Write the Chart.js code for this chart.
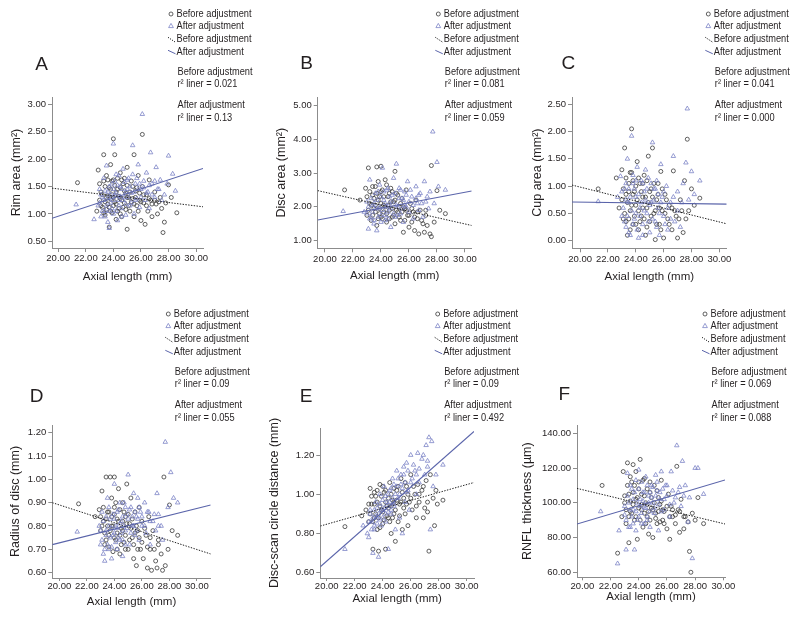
<!DOCTYPE html>
<html>
<head>
<meta charset="utf-8">
<script src="https://cdn.jsdelivr.net/npm/chart.js@4.4.1/dist/chart.umd.min.js"></script>
<style>
  html, body { margin: 0; padding: 0; background: #fff; }
  #wrap { position: relative; width: 795px; height: 619px; overflow: hidden; }
  #wrap canvas { position: absolute; left: 0; top: 0; }
</style>
</head>
<body>
<div id="wrap">
  <canvas id="cA" width="795" height="619"></canvas>
  <canvas id="cB" width="795" height="619"></canvas>
  <canvas id="cC" width="795" height="619"></canvas>
  <canvas id="cD" width="795" height="619"></canvas>
  <canvas id="cE" width="795" height="619"></canvas>
  <canvas id="cF" width="795" height="619"></canvas>
</div>
<script>
// ---- data (axial length mm, measure) ----
var axialTicks = [20, 22, 24, 26, 28, 30];

var rimTicks = [0.5, 1.0, 1.5, 2.0, 2.5, 3.0];
var rimBefore = [[21.4,1.57],[22.8,1.05],[22.9,1.80],[23.0,1.25],[23.1,1.40],[23.2,1.12],[23.3,2.08],[23.3,1.60],[23.4,0.98],[23.5,1.70],[23.5,1.30],[23.6,1.18],[23.7,0.76],[23.7,1.48],[23.8,1.90],[23.8,1.05],[23.9,1.35],[24.0,2.37],[24.0,1.62],[24.1,1.22],[24.1,2.08],[24.2,0.90],[24.3,1.45],[24.4,1.10],[24.5,1.75],[24.5,1.28],[24.6,0.95],[24.7,1.55],[24.8,1.20],[24.9,1.38],[25.0,0.72],[25.0,1.85],[25.1,1.30],[25.2,1.05],[25.3,1.60],[25.4,1.28],[25.5,2.08],[25.5,0.95],[25.6,1.42],[25.7,1.15],[25.8,1.70],[25.9,1.25],[26.0,0.88],[26.1,2.45],[26.1,1.50],[26.2,1.20],[26.3,0.81],[26.4,1.35],[26.5,1.05],[26.6,1.62],[26.7,1.25],[26.8,0.95],[27.0,1.40],[27.1,1.18],[27.2,1.00],[27.4,1.30],[27.5,1.10],[27.6,0.66],[27.7,0.85],[27.8,1.20],[28.0,1.53],[28.2,1.30],[28.6,1.02],
  [23.0,1.55],[23.1,1.15],[23.2,1.35],[23.3,1.02],[23.4,1.50],[23.4,1.22],[23.5,1.08],[23.6,1.62],[23.6,1.33],[23.7,1.12],[23.8,1.45],[23.8,1.27],[23.9,1.60],[23.9,1.02],[24.0,1.30],[24.0,1.15],[24.1,1.52],[24.2,1.40],[24.2,1.18],[24.3,1.65],[24.3,1.05],[24.4,1.32],[24.5,1.48],[24.5,1.00],[24.6,1.25],[24.6,1.62],[24.7,1.12],[24.8,1.42],[24.8,1.65],[24.9,1.08],[25.0,1.30],[25.0,1.52],[25.1,1.15],[25.2,1.40],[25.3,1.22],[25.4,1.50],[25.5,1.18],[25.6,1.30],[25.7,1.48],[25.8,1.05],[25.9,1.38],[26.0,1.22],[26.2,1.35],[26.4,1.15],[26.6,1.28],[26.8,1.18],[27.0,1.25],[27.3,1.22]];
var rimAfter = [[21.3,1.17],[22.6,0.90],[22.9,1.15],[23.0,1.45],[23.1,0.95],[23.2,1.30],[23.3,1.65],[23.4,1.05],[23.5,1.88],[23.6,0.85],[23.6,1.40],[23.7,0.74],[23.8,1.20],[23.9,1.55],[24.0,2.28],[24.0,1.00],[24.1,1.35],[24.2,1.72],[24.3,0.88],[24.4,1.25],[24.5,1.50],[24.6,1.10],[24.7,1.82],[24.8,1.30],[24.9,0.98],[25.0,1.45],[25.1,1.65],[25.2,1.15],[25.3,1.38],[25.4,2.25],[25.5,1.00],[25.6,1.55],[25.7,1.28],[25.8,1.90],[25.9,1.12],[26.0,1.45],[26.1,2.82],[26.2,1.60],[26.3,1.25],[26.4,1.75],[26.5,1.40],[26.6,1.10],[26.7,2.12],[26.8,1.55],[27.0,1.30],[27.1,1.85],[27.2,1.45],[27.4,1.62],[27.5,1.25],[27.7,1.35],[27.9,1.55],[28.0,2.06],[28.3,1.73],[28.5,1.42],
  [23.0,1.20],[23.1,1.35],[23.2,1.05],[23.3,1.25],[23.4,1.42],[23.4,0.95],[23.5,1.15],[23.6,1.30],[23.7,1.05],[23.7,1.50],[23.8,1.35],[23.9,1.10],[24.0,1.45],[24.0,1.25],[24.1,1.60],[24.2,1.05],[24.2,1.38],[24.3,1.52],[24.4,1.15],[24.4,1.70],[24.5,1.32],[24.6,1.45],[24.6,0.95],[24.7,1.25],[24.8,1.58],[24.9,1.40],[24.9,1.18],[25.0,1.62],[25.1,1.30],[25.2,1.50],[25.3,1.20],[25.4,1.72],[25.5,1.40],[25.6,1.25],[25.7,1.65],[25.8,1.45],[25.9,1.55],[26.0,1.30],[26.2,1.48],[26.4,1.38],[26.6,1.52],[26.8,1.35],[27.0,1.60],[27.3,1.45]];
var rimFitBefore = [[19.55,1.47],[30.5,1.13]];
var rimFitAfter = [[19.55,0.92],[30.5,1.83]];

var discTicks = [1, 2, 3, 4, 5];
var discBefore = [[21.4,2.50],[22.5,2.20],[22.9,2.55],[23.0,1.75],[23.1,3.15],[23.2,2.10],[23.3,1.60],[23.4,2.35],[23.5,1.95],[23.6,2.60],[23.7,1.45],[23.7,3.18],[23.8,2.20],[23.9,1.80],[24.0,3.20],[24.0,2.45],[24.1,1.65],[24.2,2.05],[24.3,2.80],[24.4,1.55],[24.5,2.30],[24.6,1.90],[24.7,2.55],[24.8,1.70],[24.9,2.15],[25.0,3.05],[25.0,1.50],[25.1,2.40],[25.2,1.85],[25.3,2.00],[25.4,1.60],[25.5,2.25],[25.6,1.25],[25.7,1.95],[25.8,2.50],[25.9,1.75],[26.0,1.40],[26.1,2.10],[26.2,1.55],[26.3,1.85],[26.4,1.30],[26.5,2.20],[26.6,1.65],[26.7,1.20],[26.8,1.90],[27.0,1.50],[27.1,1.25],[27.2,1.75],[27.3,1.45],[27.5,1.20],[27.6,1.12],[27.6,3.22],[27.8,1.55],[28.0,2.48],[28.2,1.90],[28.6,1.80],
  [23.0,2.30],[23.1,1.90],[23.2,2.45],[23.3,2.05],[23.4,1.75],[23.4,2.60],[23.5,2.25],[23.6,1.85],[23.6,2.05],[23.7,2.40],[23.8,1.65],[23.8,2.75],[23.9,2.30],[23.9,1.95],[24.0,2.10],[24.0,1.70],[24.1,2.50],[24.2,1.85],[24.2,2.30],[24.3,2.00],[24.4,2.65],[24.4,1.80],[24.5,2.05],[24.6,2.40],[24.6,1.65],[24.7,2.15],[24.8,1.95],[24.8,2.45],[24.9,1.75],[25.0,2.20],[25.1,1.90],[25.2,2.35],[25.3,1.70],[25.4,2.10],[25.5,1.85],[25.6,2.00],[25.7,1.60],[25.8,1.90],[26.0,1.75],[26.2,1.95],[26.4,1.70],[26.6,1.85],[26.9,1.60],[27.2,1.90]];
var discAfter = [[21.3,1.87],[22.8,1.85],[23.0,2.15],[23.1,1.35],[23.2,2.80],[23.3,1.70],[23.4,2.05],[23.5,1.50],[23.6,2.40],[23.7,1.30],[23.8,1.95],[23.9,2.65],[24.0,1.75],[24.1,3.15],[24.2,2.20],[24.3,1.60],[24.4,2.50],[24.5,1.85],[24.6,2.10],[24.7,1.40],[24.8,2.35],[24.9,2.85],[25.0,1.70],[25.1,3.27],[25.2,2.00],[25.3,2.55],[25.4,1.80],[25.5,2.25],[25.6,1.55],[25.7,2.45],[25.8,2.00],[25.9,2.75],[26.0,1.85],[26.2,2.30],[26.3,1.65],[26.5,2.60],[26.6,2.10],[26.7,1.90],[26.8,2.40],[27.0,1.70],[27.1,2.75],[27.2,2.15],[27.4,1.95],[27.5,2.45],[27.7,4.22],[27.8,2.10],[28.0,3.32],[28.1,2.60],[28.6,2.50],
  [23.0,1.80],[23.1,2.00],[23.2,1.65],[23.3,2.25],[23.4,1.85],[23.5,2.10],[23.5,1.60],[23.6,1.95],[23.7,2.20],[23.8,1.70],[23.8,2.45],[23.9,2.00],[24.0,2.30],[24.0,1.55],[24.1,1.90],[24.2,2.45],[24.3,2.10],[24.3,1.75],[24.4,2.00],[24.5,2.55],[24.5,1.65],[24.6,2.30],[24.7,1.95],[24.8,2.15],[24.9,1.80],[25.0,2.40],[25.1,2.05],[25.2,1.75],[25.3,2.25],[25.4,2.50],[25.5,1.95],[25.6,2.20],[25.7,2.05],[25.8,2.35],[26.0,2.15],[26.1,2.50],[26.3,2.05],[26.5,2.25],[26.7,2.35],[26.9,2.10],[27.3,2.30]];
var discFitBefore = [[19.48,2.48],[30.48,1.45]];
var discFitAfter = [[19.48,1.61],[30.48,2.47]];

var cupTicks = [0, 0.5, 1.0, 1.5, 2.0, 2.5];
var cupBefore = [[21.3,0.95],[22.6,1.15],[22.8,0.60],[23.0,1.30],[23.1,0.40],[23.2,1.70],[23.3,0.85],[23.4,0.10],[23.5,1.05],[23.6,0.55],[23.7,2.05],[23.7,1.25],[23.8,0.30],[23.9,0.90],[24.0,0.65],[24.1,1.45],[24.2,0.20],[24.3,1.05],[24.4,0.45],[24.5,0.80],[24.6,1.20],[24.7,0.10],[24.8,0.60],[24.9,1.55],[25.0,0.35],[25.1,0.95],[25.2,1.70],[25.3,0.50],[25.4,0.02],[25.5,0.75],[25.6,1.05],[25.7,0.30],[25.8,1.27],[25.9,0.55],[26.0,0.05],[26.1,0.85],[26.3,0.40],[26.4,0.65],[26.6,0.20],[26.7,1.28],[26.8,0.55],[27.0,0.05],[27.1,0.40],[27.2,0.75],[27.4,0.15],[27.5,1.10],[27.6,0.40],[27.7,1.86],[27.8,0.55],[28.0,0.95],[28.2,0.65],[28.6,0.78],
  [23.0,0.75],[23.1,0.95],[23.2,0.50],[23.3,1.15],[23.3,0.35],[23.4,0.70],[23.5,0.40],[23.5,0.90],[23.6,1.25],[23.6,0.20],[23.7,0.65],[23.8,0.85],[23.8,1.10],[23.9,0.45],[24.0,1.00],[24.0,0.30],[24.1,0.75],[24.2,0.55],[24.2,1.15],[24.3,0.35],[24.4,0.90],[24.5,0.60],[24.5,1.05],[24.6,0.40],[24.7,0.80],[24.8,1.10],[24.8,0.25],[24.9,0.70],[25.0,0.90],[25.1,0.45],[25.2,0.80],[25.3,1.05],[25.4,0.55],[25.5,0.30],[25.6,0.85],[25.7,0.60],[25.8,0.20],[25.9,0.95],[26.1,0.50],[26.2,0.75],[26.4,0.30],[26.6,0.60],[26.9,0.45],[27.3,0.55]];
var cupAfter = [[21.3,0.72],[22.7,0.80],[22.9,1.18],[23.0,0.45],[23.2,0.95],[23.3,0.25],[23.4,1.50],[23.5,0.70],[23.6,0.10],[23.7,1.92],[23.8,1.05],[23.9,0.40],[24.0,0.80],[24.1,1.35],[24.2,0.05],[24.3,0.60],[24.4,1.10],[24.5,0.30],[24.6,0.90],[24.7,1.30],[24.8,0.50],[24.9,1.15],[25.0,0.15],[25.1,0.70],[25.2,1.80],[25.3,0.95],[25.4,0.35],[25.5,1.10],[25.6,0.60],[25.7,0.10],[25.8,1.40],[25.9,0.80],[26.0,0.45],[26.2,1.00],[26.3,0.20],[26.5,0.70],[26.7,1.55],[26.8,0.35],[27.0,0.90],[27.2,0.25],[27.4,1.05],[27.6,1.43],[27.7,2.42],[27.8,0.75],[28.0,1.27],[28.2,0.85],[28.6,1.10],
  [23.0,0.90],[23.1,0.60],[23.2,0.35],[23.3,1.05],[23.3,0.75],[23.4,0.45],[23.5,0.95],[23.5,0.15],[23.6,0.80],[23.7,0.55],[23.8,1.20],[23.8,0.30],[23.9,0.95],[24.0,0.50],[24.0,1.10],[24.1,0.20],[24.2,0.85],[24.3,0.45],[24.4,0.70],[24.5,1.05],[24.5,0.10],[24.6,0.55],[24.7,0.75],[24.8,0.95],[24.9,0.35],[25.0,0.65],[25.1,1.05],[25.2,0.40],[25.3,0.75],[25.4,0.95],[25.5,0.25],[25.6,0.85],[25.7,0.50],[25.8,0.70],[26.0,0.90],[26.1,0.30],[26.3,0.60],[26.5,0.40],[26.7,0.80],[27.0,0.55],[27.3,0.70]];
var cupFitBefore = [[19.42,1.02],[30.53,0.31]];
var cupFitAfter = [[19.42,0.71],[30.53,0.67]];

var radiusTicks = [0.6, 0.7, 0.8, 0.9, 1.0, 1.1, 1.2];
var radiusBefore = [[21.4,0.895],[22.6,0.84],[22.9,0.87],[23.0,0.78],[23.1,0.95],[23.2,0.82],[23.3,0.72],[23.4,1.01],[23.5,0.86],[23.6,0.76],[23.7,1.01],[23.8,0.80],[23.9,0.69],[24.0,0.88],[24.0,1.01],[24.1,0.74],[24.2,0.83],[24.3,0.96],[24.4,0.68],[24.5,0.79],[24.6,0.90],[24.7,0.73],[24.8,0.84],[24.9,0.98],[25.0,0.70],[25.1,0.81],[25.2,0.92],[25.3,0.75],[25.4,0.66],[25.5,0.86],[25.6,0.63],[25.7,0.78],[25.8,0.88],[25.9,0.70],[26.0,0.82],[26.1,0.66],[26.3,0.76],[26.4,0.62],[26.5,0.84],[26.6,0.70],[26.7,0.61],[26.8,0.78],[27.0,0.65],[27.1,0.62],[27.2,0.72],[27.4,0.68],[27.5,0.61],[27.6,1.01],[27.7,0.63],[27.9,0.70],[28.0,0.89],[28.2,0.78],[28.6,0.76],
  [23.0,0.84],[23.1,0.80],[23.2,0.88],[23.3,0.77],[23.4,0.83],[23.4,0.74],[23.5,0.80],[23.6,0.86],[23.6,0.71],[23.7,0.78],[23.8,0.84],[23.8,0.92],[23.9,0.80],[24.0,0.75],[24.0,0.85],[24.1,0.90],[24.2,0.77],[24.2,0.70],[24.3,0.82],[24.4,0.87],[24.4,0.76],[24.5,0.72],[24.6,0.82],[24.6,0.78],[24.7,0.86],[24.8,0.76],[24.8,0.70],[24.9,0.81],[25.0,0.85],[25.1,0.74],[25.2,0.79],[25.3,0.83],[25.4,0.72],[25.5,0.77],[25.6,0.80],[25.7,0.70],[25.8,0.75],[26.0,0.73],[26.2,0.79],[26.4,0.71],[26.6,0.75],[26.9,0.70],[27.2,0.74]];
var radiusAfter = [[21.3,0.775],[22.9,0.80],[23.0,0.72],[23.1,0.86],[23.2,0.68],[23.3,0.65],[23.4,0.78],[23.5,0.92],[23.6,0.70],[23.7,0.83],[23.8,0.66],[23.9,0.76],[24.0,0.98],[24.1,0.80],[24.2,0.70],[24.3,0.87],[24.4,0.74],[24.5,0.82],[24.6,0.67],[24.7,0.90],[24.8,0.78],[24.9,0.85],[25.0,1.02],[25.1,0.72],[25.2,0.88],[25.3,0.80],[25.4,0.94],[25.5,0.76],[25.6,0.84],[25.7,0.92],[25.8,0.74],[25.9,0.86],[26.0,0.80],[26.2,0.90],[26.3,0.77],[26.5,0.86],[26.6,0.72],[26.8,0.82],[27.0,0.78],[27.1,0.94],[27.2,0.85],[27.4,0.80],[27.5,0.74],[27.7,1.16],[27.9,0.88],[28.1,1.03],[28.3,0.92],[28.6,0.90],
  [23.0,0.78],[23.1,0.74],[23.2,0.82],[23.3,0.70],[23.4,0.84],[23.4,0.76],[23.5,0.72],[23.6,0.80],[23.6,0.88],[23.7,0.75],[23.8,0.79],[23.8,0.71],[23.9,0.85],[24.0,0.77],[24.0,0.83],[24.1,0.73],[24.2,0.86],[24.2,0.79],[24.3,0.75],[24.4,0.81],[24.4,0.90],[24.5,0.77],[24.6,0.84],[24.6,0.74],[24.7,0.80],[24.8,0.88],[24.8,0.72],[24.9,0.79],[25.0,0.83],[25.1,0.87],[25.2,0.77],[25.3,0.84],[25.4,0.80],[25.5,0.86],[25.6,0.78],[25.7,0.83],[25.8,0.88],[26.0,0.84],[26.2,0.80],[26.4,0.86],[26.6,0.82],[26.9,0.85],[27.2,0.80]];
var radiusFitBefore = [[19.49,0.90],[31.0,0.68]];
var radiusFitAfter = [[19.49,0.72],[31.0,0.89]];

var scanTicks = [0.6, 0.8, 1.0, 1.2];
var scanBefore = [[21.3,0.835],[22.5,0.89],[22.8,0.92],[23.0,0.86],[23.1,1.03],[23.2,0.95],[23.3,0.72],[23.4,0.88],[23.5,0.99],[23.6,0.82],[23.7,0.71],[23.8,1.05],[23.9,0.92],[24.0,0.85],[24.1,1.01],[24.2,0.72],[24.3,0.94],[24.4,0.88],[24.5,1.06],[24.6,0.80],[24.7,0.97],[24.8,0.90],[24.9,0.76],[25.0,1.02],[25.1,0.86],[25.2,0.95],[25.3,1.08],[25.4,0.82],[25.5,0.98],[25.6,0.90],[25.7,1.04],[25.8,0.84],[25.9,0.96],[26.0,1.10],[26.1,0.92],[26.3,1.00],[26.4,0.88],[26.5,1.05],[26.6,0.96],[26.8,1.02],[26.9,0.88],[27.0,0.93],[27.1,1.07],[27.2,0.91],[27.3,0.71],[27.4,1.10],[27.6,0.98],[27.7,0.84],[27.8,1.02],[27.9,0.95],[28.3,0.97],
  [23.0,0.95],[23.1,0.90],[23.2,0.99],[23.3,0.86],[23.4,0.95],[23.4,1.01],[23.5,0.90],[23.6,0.96],[23.6,1.02],[23.7,0.88],[23.8,0.94],[23.8,0.83],[23.9,0.99],[24.0,0.91],[24.0,1.04],[24.1,0.87],[24.2,0.96],[24.2,1.02],[24.3,0.89],[24.4,0.98],[24.4,0.93],[24.5,0.86],[24.6,1.00],[24.6,0.94],[24.7,0.88],[24.8,1.03],[24.8,0.96],[24.9,0.92],[25.0,0.97],[25.1,1.04],[25.2,0.89],[25.3,0.96],[25.4,1.01],[25.5,0.93],[25.6,1.06],[25.7,0.95],[25.8,1.00],[26.0,0.98],[26.2,1.04],[26.4,0.94],[26.6,1.00],[26.9,1.04],[27.2,0.96]];
var scanAfter = [[21.3,0.72],[22.6,0.84],[22.9,0.80],[23.0,0.78],[23.1,0.92],[23.2,0.86],[23.3,0.70],[23.4,0.82],[23.5,0.96],[23.6,0.88],[23.7,0.68],[23.8,1.00],[23.9,0.84],[24.0,0.92],[24.1,1.04],[24.2,0.86],[24.3,0.96],[24.4,0.72],[24.5,1.02],[24.6,0.90],[24.7,1.08],[24.8,0.94],[24.9,0.82],[25.0,1.12],[25.1,0.98],[25.2,0.88],[25.3,1.05],[25.4,0.80],[25.5,1.10],[25.6,0.96],[25.7,1.16],[25.8,1.02],[25.9,0.92],[26.0,1.20],[26.1,1.08],[26.3,1.12],[26.4,1.00],[26.5,1.21],[26.6,1.06],[26.8,1.18],[27.0,1.10],[27.1,1.25],[27.2,1.14],[27.3,1.29],[27.4,0.82],[27.5,1.27],[27.6,1.04],[27.8,1.10],[28.3,1.15],
  [23.0,0.86],[23.1,0.90],[23.2,0.82],[23.3,0.88],[23.4,0.92],[23.4,0.84],[23.5,0.89],[23.6,0.93],[23.6,0.85],[23.7,0.90],[23.8,0.95],[23.8,0.87],[23.9,0.92],[24.0,0.97],[24.0,0.88],[24.1,0.93],[24.2,0.99],[24.2,0.90],[24.3,0.94],[24.4,1.00],[24.4,0.91],[24.5,0.96],[24.6,1.03],[24.6,0.92],[24.7,0.98],[24.8,1.05],[24.8,0.95],[24.9,1.00],[25.0,1.04],[25.1,1.08],[25.2,1.00],[25.3,1.10],[25.4,1.03],[25.5,1.14],[25.6,1.06],[25.7,1.01],[25.8,1.12],[26.0,1.06],[26.2,1.15],[26.4,1.10],[26.6,1.13],[26.9,1.20],[27.2,1.17]];
var scanFitBefore = [[19.54,0.838],[30.52,1.06]];
var scanFitAfter = [[19.54,0.63],[30.52,1.32]];

var rnflTicks = [60, 80, 100, 120, 140];
var rnflBefore = [[21.4,110],[22.5,71],[22.8,92],[22.9,118],[23.0,100],[23.1,88],[23.2,123],[23.3,105],[23.3,77],[23.4,95],[23.5,112],[23.6,122],[23.7,90],[23.8,102],[23.9,79],[24.0,108],[24.1,125],[24.2,96],[24.3,86],[24.4,114],[24.5,100],[24.6,92],[24.7,82],[24.8,106],[24.9,97],[25.0,80],[25.1,110],[25.2,94],[25.3,88],[25.4,103],[25.5,99],[25.6,113],[25.7,90],[25.8,95],[26.0,85],[26.1,105],[26.2,79],[26.3,98],[26.4,92],[26.6,88],[26.7,121],[26.8,96],[26.9,83],[27.0,102],[27.2,85],[27.3,92],[27.5,89],[27.6,72],[27.7,60],[27.8,94],[28.0,90],[28.2,103],[28.6,88],
  [23.0,104],[23.1,96],[23.2,110],[23.3,92],[23.4,101],[23.4,115],[23.5,94],[23.6,106],[23.6,99],[23.7,110],[23.8,92],[23.8,118],[23.9,103],[24.0,97],[24.0,112],[24.1,90],[24.2,105],[24.2,99],[24.3,113],[24.4,94],[24.4,104],[24.5,88],[24.6,108],[24.6,99],[24.7,95],[24.8,112],[24.8,90],[24.9,103],[25.0,96],[25.1,100],[25.2,91],[25.3,107],[25.4,95],[25.5,89],[25.6,101],[25.7,96],[25.8,88],[26.0,98],[26.2,92],[26.4,96],[26.6,93],[26.9,95],[27.2,92]];
var rnflAfter = [[21.3,95],[22.5,65],[22.6,84],[23.0,93],[23.1,73],[23.2,117],[23.3,100],[23.4,86],[23.5,108],[23.6,96],[23.7,73],[23.8,113],[23.9,90],[24.0,119],[24.1,102],[24.2,88],[24.3,106],[24.4,97],[24.5,115],[24.6,92],[24.7,104],[24.8,86],[24.9,110],[25.0,100],[25.1,94],[25.2,116],[25.3,107],[25.4,84],[25.5,102],[25.6,118],[25.8,96],[25.9,110],[26.0,104],[26.2,92],[26.3,118],[26.5,100],[26.7,133],[26.8,106],[27.0,98],[27.1,124],[27.3,110],[27.5,89],[27.6,103],[27.8,68],[28.0,120],[28.2,120],[28.6,105],
  [23.0,98],[23.1,90],[23.2,104],[23.3,86],[23.4,96],[23.4,110],[23.5,92],[23.6,102],[23.6,88],[23.7,106],[23.8,95],[23.8,84],[23.9,100],[24.0,108],[24.0,92],[24.1,98],[24.2,112],[24.2,94],[24.3,101],[24.4,88],[24.4,106],[24.5,97],[24.6,110],[24.6,90],[24.7,100],[24.8,106],[24.8,95],[24.9,103],[25.0,109],[25.1,97],[25.2,104],[25.3,112],[25.4,99],[25.5,106],[25.6,95],[25.7,108],[25.8,102],[26.0,110],[26.2,99],[26.4,107],[26.6,103],[26.9,109],[27.2,104]];
var rnflFitBefore = [[19.62,108.3],[30.12,87.8]];
var rnflFitAfter = [[19.62,87.8],[30.12,113.1]];

// ---- styling ----
var SANS = "'Liberation Sans', Arial, Helvetica, sans-serif";
var INK = '#231f20';
var AXIS = '#8c8c8c';
var CIRCLE = '#3a3a3a';
var TRI = '#7c84c6';
var BLUE = '#5a64aa';

// panel layout: box = chart area [left, top, right, bottom] on the page
var panels = [
  { id: 'cA', letter: 'A', yTitle: 'Rim area (mm\u00b2)', before: rimBefore, after: rimAfter,
    fitB: rimFitBefore, fitA: rimFitAfter, yTicks: rimTicks, r2: ['0.021', '0.13'],
    xr: [19.55, 30.5], yr: [0.378, 3.133], box: [52, 97, 203, 248], yW: 43, xH: 35.5, tickLen: 4, tickPad: 1,
    letterAt: [41.7, 65], legX: 171, legY: 0 },
  { id: 'cB', letter: 'B', yTitle: 'Disc area (mm\u00b2)', before: discBefore, after: discAfter,
    fitB: discFitBefore, fitA: discFitAfter, yTicks: discTicks, r2: ['0.081', '0.059'],
    xr: [19.48, 30.48], yr: [0.776, 5.245], box: [317.7, 97, 471.7, 248.3], yW: 43.2, xH: 34.5, tickLen: 4, tickPad: 1,
    letterAt: [306.7, 63.3], legX: 438.3, legY: 0 },
  { id: 'cC', letter: 'C', yTitle: 'Cup area (mm\u00b2)', before: cupBefore, after: cupAfter,
    fitB: cupFitBefore, fitA: cupFitAfter, yTicks: cupTicks, r2: ['0.041', '0.000'],
    xr: [19.42, 30.53], yr: [-0.139, 2.634], box: [572, 97, 726.7, 248.3], yW: 42, xH: 35.5, tickLen: 4, tickPad: 1,
    letterAt: [568.3, 63.3], legX: 708.3, legY: 0 },
  { id: 'cD', letter: 'D', yTitle: 'Radius of disc (mm)', before: radiusBefore, after: radiusAfter,
    fitB: radiusFitBefore, fitA: radiusFitAfter, yTicks: radiusTicks, r2: ['0.09', '0.055'],
    xr: [19.49, 31.0], yr: [0.577, 1.233], box: [52.3, 425, 210.7, 578], yW: 44.5, xH: 31, tickLen: 3, tickPad: 0,
    letterAt: [36.7, 396.7], legX: 168.3, legY: 300 },
  { id: 'cE', letter: 'E', yTitle: 'Disc-scan circle distance (mm)', before: scanBefore, after: scanAfter,
    fitB: scanFitBefore, fitA: scanFitAfter, yTicks: scanTicks, r2: ['0.09', '0.492'],
    xr: [19.54, 30.52], yr: [0.573, 1.338], box: [320.3, 428, 474, 578], yW: 53.5, xH: 27.5, tickLen: 3, tickPad: 0,
    letterAt: [306, 396.7], legX: 437.7, legY: 300 },
  { id: 'cF', letter: 'F', yTitle: 'RNFL thickness (\u00b5m)', before: rnflBefore, after: rnflAfter,
    fitB: rnflFitBefore, fitA: rnflFitAfter, yTicks: rnflTicks, r2: ['0.069', '0.088'],
    xr: [19.62, 30.12], yr: [57.1, 144.8], box: [577, 425, 725, 577.3], yW: 57.2, xH: 26.5, tickLen: 3, tickPad: 0,
    letterAt: [564.3, 395], legX: 705, legY: 300 }
];

function toPoints(arr) {
  return arr.map(function(p) { return { x: p[0], y: p[1] }; });
}

// condensed label text: a taller face squeezed to the reference width
function squeezeText(ctx, s, x, y) {
  ctx.font = '10.5px ' + SANS;
  var target = ctx.measureText(s).width * 0.88;
  ctx.font = '11.3px ' + SANS;
  ctx.fillText(s, x, y, target);
}

var notesPlugin = {
  id: 'panelNotes',
  afterDraw: function(chart) {
    var p = chart.options.plugins.panelNotes.panel;
    var ctx = chart.ctx;
    var mx = p.legX, oy = p.legY, tx = mx + 5.5;
    var rows = [14, 26, 39.3, 52.3, 71.7, 84.3, 105, 117.7];

    ctx.save();
    ctx.fillStyle = INK;
    ctx.textBaseline = 'middle';
    ctx.textAlign = 'center';
    ctx.font = '19px ' + SANS;
    ctx.fillText(p.letter, p.letterAt[0], p.letterAt[1]);

    // legend markers
    ctx.lineWidth = 0.8;
    ctx.strokeStyle = CIRCLE;
    ctx.beginPath();
    ctx.arc(mx, oy + rows[0], 2, 0, Math.PI * 2);
    ctx.stroke();

    ctx.strokeStyle = TRI;
    ctx.beginPath();
    ctx.moveTo(mx, oy + rows[1] - 2.6);
    ctx.lineTo(mx + 2.4, oy + rows[1] + 1.6);
    ctx.lineTo(mx - 2.4, oy + rows[1] + 1.6);
    ctx.closePath();
    ctx.stroke();

    ctx.lineWidth = 1;
    ctx.strokeStyle = '#222';
    ctx.setLineDash([1.2, 1.2]);
    ctx.beginPath();
    ctx.moveTo(mx - 3, oy + rows[2] - 2);
    ctx.lineTo(mx + 4.5, oy + rows[2] + 3);
    ctx.stroke();
    ctx.setLineDash([]);

    ctx.strokeStyle = BLUE;
    ctx.beginPath();
    ctx.moveTo(mx - 3, oy + rows[3] - 2);
    ctx.lineTo(mx + 4.5, oy + rows[3] + 1.5);
    ctx.stroke();

    ctx.textAlign = 'left';
    squeezeText(ctx, 'Before adjustment', tx, oy + rows[0]);
    squeezeText(ctx, 'After adjustment', tx, oy + rows[1]);
    squeezeText(ctx, 'Before adjustment', tx, oy + rows[2]);
    squeezeText(ctx, 'After adjustment', tx, oy + rows[3]);

    var nx = tx + 1;
    squeezeText(ctx, 'Before adjustment', nx, oy + rows[4]);
    squeezeText(ctx, 'r\u00b2 liner = ' + p.r2[0], nx, oy + rows[5]);
    squeezeText(ctx, 'After adjustment', nx, oy + rows[6]);
    squeezeText(ctx, 'r\u00b2 liner = ' + p.r2[1], nx, oy + rows[7]);
    ctx.restore();
  }
};

function axisGrid(len) {
  return { display: true, drawOnChartArea: false, drawTicks: true, tickLength: len, color: AXIS, lineWidth: 1 };
}

function makeChart(p) {
  var ctx = document.getElementById(p.id).getContext('2d');
  var b = p.box;
  return new Chart(ctx, {
    type: 'scatter',
    data: {
      datasets: [
        {
          type: 'line', label: 'Before fit', data: toPoints(p.fitB),
          borderColor: '#1e1e1e', borderWidth: 1, borderDash: [1.4, 1.4],
          pointRadius: 0, fill: false, tension: 0, order: 0
        },
        {
          type: 'line', label: 'After fit', data: toPoints(p.fitA),
          borderColor: BLUE, borderWidth: 1.1,
          pointRadius: 0, fill: false, tension: 0, order: 0
        },
        {
          label: 'Before adjustment', data: toPoints(p.before),
          pointStyle: 'circle', pointRadius: 2, borderWidth: 0.8,
          borderColor: CIRCLE, backgroundColor: 'rgba(0,0,0,0)', order: 2
        },
        {
          label: 'After adjustment', data: toPoints(p.after),
          pointStyle: 'triangle', pointRadius: 2.6, borderWidth: 0.8,
          borderColor: TRI, backgroundColor: 'rgba(0,0,0,0)', order: 1
        }
      ]
    },
    options: {
      responsive: false,
      animation: false,
      events: [],
      layout: {
        padding: { left: b[0] - p.yW, top: b[1], right: 795 - b[2], bottom: 619 - b[3] - p.xH }
      },
      plugins: {
        legend: { display: false },
        tooltip: { enabled: false },
        panelNotes: { panel: p }
      },
      scales: {
        x: {
          type: 'linear', min: p.xr[0], max: p.xr[1],
          afterFit: function(scale) { scale.height = p.xH; },
          afterBuildTicks: function(scale) {
            scale.ticks = axialTicks.map(function(v) { return { value: v }; });
          },
          grid: axisGrid(p.tickLen),
          border: { display: true, color: AXIS, width: 1 },
          ticks: {
            color: INK, padding: p.tickPad, maxRotation: 0, autoSkip: false,
            font: { family: SANS, size: 9.5 },
            callback: function(v) { return Number(v).toFixed(2); }
          },
          title: {
            display: true, text: 'Axial length (mm)', color: INK, padding: 0,
            font: { family: SANS, size: 11.5 }
          }
        },
        y: {
          type: 'linear', min: p.yr[0], max: p.yr[1],
          afterFit: function(scale) { scale.width = p.yW; },
          afterBuildTicks: function(scale) {
            scale.ticks = p.yTicks.map(function(v) { return { value: v }; });
          },
          grid: axisGrid(4),
          border: { display: true, color: AXIS, width: 1 },
          ticks: {
            color: INK, padding: 2,
            font: { family: SANS, size: 9.5 },
            callback: function(v) { return Number(v).toFixed(2); }
          },
          title: {
            display: true, text: p.yTitle, color: INK, padding: 0,
            font: { family: SANS, size: 12.5 }
          }
        }
      }
    },
    plugins: [notesPlugin]
  });
}

panels.forEach(makeChart);
</script>
</body>
</html>
